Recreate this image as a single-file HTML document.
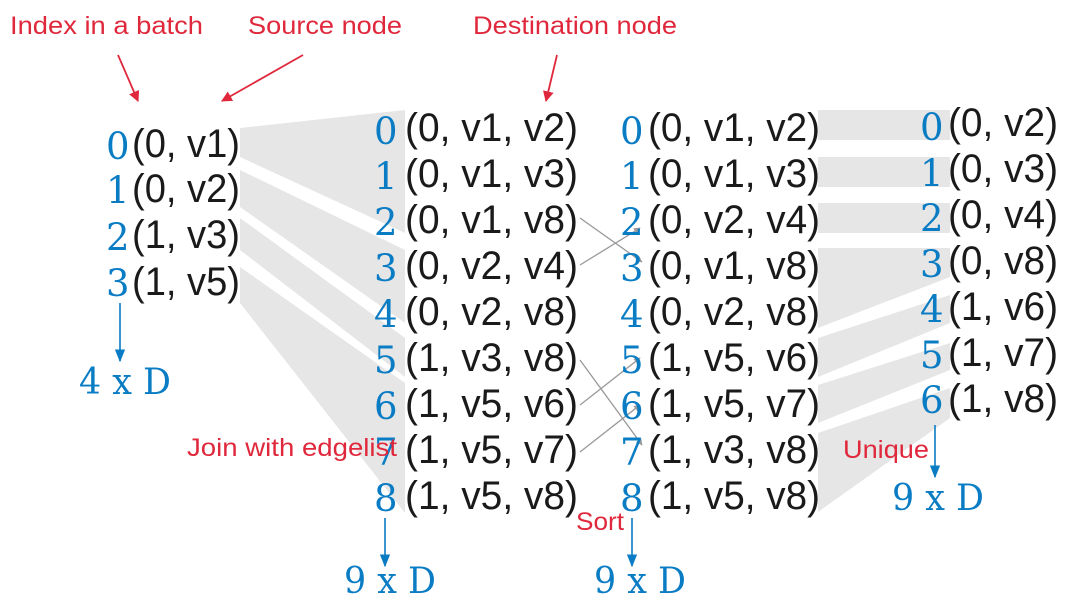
<!DOCTYPE html>
<html><head><meta charset="utf-8"><style>
html,body{margin:0;padding:0;background:#fff;}
svg{display:block;}
.t{font-family:"Liberation Sans",sans-serif;font-size:40px;fill:#1a1a1a;}
.i{font-family:"DejaVu Serif","Liberation Serif",serif;font-size:37px;fill:#0a7cc4;}
.r{font-family:"Liberation Sans",sans-serif;font-size:25px;fill:#e0283c;}
.d{font-family:"DejaVu Serif","Liberation Serif",serif;font-size:36px;fill:#0a7cc4;}
</style></head><body>
<svg width="1080" height="606" viewBox="0 0 1080 606" xmlns="http://www.w3.org/2000/svg">
<defs>
<marker id="ra" viewBox="0 0 10 10" refX="9" refY="5" markerWidth="6" markerHeight="6" orient="auto"><path d="M0,0 L10,5 L0,10 z" fill="#e0283c"/></marker>
<marker id="ba" viewBox="0 0 10 10" refX="9" refY="5" markerWidth="8" markerHeight="8" orient="auto"><path d="M0,1 L10,5 L0,9 z" fill="#0a7cc4"/></marker>
<marker id="ga" viewBox="0 0 10 10" refX="9" refY="5" markerWidth="5" markerHeight="5" orient="auto"><path d="M0,0 L10,5 L0,10 z" fill="#999"/></marker>
</defs>
<g fill="#e6e6e6">
<polygon points="240,128 405,110 405,233 240,157"/>
<polygon points="240,170 405,250 405,323 240,207"/>
<polygon points="240,218 405,338 405,377 240,250"/>
<polygon points="240,267 405,383 405,513 240,303"/>
<polygon points="818,110 950,110 950,140 818,140"/>
<polygon points="818,157 950,157 950,187 818,187"/>
<polygon points="818,203 950,203 950,233 818,233"/>
<polygon points="818,248 950,248 950,277 818,328"/>
<polygon points="818,338 950,295 950,323 818,377"/>
<polygon points="818,385 950,343 950,370 818,423"/>
<polygon points="818,433 950,388 950,418 818,512"/>
</g>
<g stroke="#999" stroke-width="1.3" marker-end="url(#ga)">
<line x1="580" y1="218" x2="642" y2="262"/>
<line x1="580" y1="265" x2="640" y2="228"/>
<line x1="580" y1="360" x2="642" y2="445"/>
<line x1="580" y1="405" x2="640" y2="358"/>
<line x1="580" y1="452" x2="640" y2="405"/>
</g>
<text class="r" x="10" y="34" textLength="193" lengthAdjust="spacingAndGlyphs">Index in a batch</text>
<text class="r" x="248" y="34" textLength="154" lengthAdjust="spacingAndGlyphs">Source node</text>
<text class="r" x="473" y="34" textLength="204" lengthAdjust="spacingAndGlyphs">Destination node</text>
<g stroke="#e0283c" stroke-width="1.8" marker-end="url(#ra)">
<line x1="118" y1="55" x2="138" y2="101"/>
<line x1="303" y1="55" x2="222" y2="101"/>
<line x1="557" y1="55" x2="546" y2="101"/>
</g>
<g class="i"><text x="106" y="159">0</text><text x="106" y="203">1</text><text x="106" y="250">2</text><text x="106" y="296">3</text></g>
<g class="t"><text x="132" y="157" textLength="108" lengthAdjust="spacingAndGlyphs">(0, v1)</text><text x="132" y="202" textLength="108" lengthAdjust="spacingAndGlyphs">(0, v2)</text><text x="132" y="248" textLength="108" lengthAdjust="spacingAndGlyphs">(1, v3)</text><text x="132" y="295" textLength="108" lengthAdjust="spacingAndGlyphs">(1, v5)</text></g>
<g class="i">
<text x="374" y="144">0</text><text x="374" y="189">1</text><text x="374" y="235">2</text><text x="374" y="281">3</text><text x="374" y="327">4</text><text x="374" y="373">5</text><text x="374" y="419">6</text><text x="374" y="465">7</text><text x="374" y="511">8</text></g>
<g class="t">
<text x="405" y="141" textLength="173" lengthAdjust="spacingAndGlyphs">(0, v1, v2)</text>
<text x="405" y="187" textLength="173" lengthAdjust="spacingAndGlyphs">(0, v1, v3)</text>
<text x="405" y="233" textLength="173" lengthAdjust="spacingAndGlyphs">(0, v1, v8)</text>
<text x="405" y="279" textLength="173" lengthAdjust="spacingAndGlyphs">(0, v2, v4)</text>
<text x="405" y="325" textLength="173" lengthAdjust="spacingAndGlyphs">(0, v2, v8)</text>
<text x="405" y="371" textLength="173" lengthAdjust="spacingAndGlyphs">(1, v3, v8)</text>
<text x="405" y="417" textLength="173" lengthAdjust="spacingAndGlyphs">(1, v5, v6)</text>
<text x="405" y="463" textLength="173" lengthAdjust="spacingAndGlyphs">(1, v5, v7)</text>
<text x="405" y="509" textLength="173" lengthAdjust="spacingAndGlyphs">(1, v5, v8)</text></g>
<g class="i">
<text x="620" y="144">0</text><text x="620" y="189">1</text><text x="620" y="235">2</text><text x="620" y="281">3</text><text x="620" y="327">4</text><text x="620" y="373">5</text><text x="620" y="419">6</text><text x="620" y="465">7</text><text x="620" y="511">8</text></g>
<g class="t">
<text x="648" y="141" textLength="172" lengthAdjust="spacingAndGlyphs">(0, v1, v2)</text>
<text x="648" y="187" textLength="172" lengthAdjust="spacingAndGlyphs">(0, v1, v3)</text>
<text x="648" y="233" textLength="172" lengthAdjust="spacingAndGlyphs">(0, v2, v4)</text>
<text x="648" y="279" textLength="172" lengthAdjust="spacingAndGlyphs">(0, v1, v8)</text>
<text x="648" y="325" textLength="172" lengthAdjust="spacingAndGlyphs">(0, v2, v8)</text>
<text x="648" y="371" textLength="172" lengthAdjust="spacingAndGlyphs">(1, v5, v6)</text>
<text x="648" y="417" textLength="172" lengthAdjust="spacingAndGlyphs">(1, v5, v7)</text>
<text x="648" y="463" textLength="172" lengthAdjust="spacingAndGlyphs">(1, v3, v8)</text>
<text x="648" y="509" textLength="172" lengthAdjust="spacingAndGlyphs">(1, v5, v8)</text></g>
<g class="i">
<text x="920" y="140">0</text><text x="920" y="186">1</text><text x="920" y="231">2</text><text x="920" y="277">3</text><text x="920" y="322">4</text><text x="920" y="368">5</text><text x="920" y="413">6</text></g>
<g class="t">
<text x="948" y="136" textLength="110" lengthAdjust="spacingAndGlyphs">(0, v2)</text>
<text x="948" y="182" textLength="110" lengthAdjust="spacingAndGlyphs">(0, v3)</text>
<text x="948" y="228" textLength="110" lengthAdjust="spacingAndGlyphs">(0, v4)</text>
<text x="948" y="274" textLength="110" lengthAdjust="spacingAndGlyphs">(0, v8)</text>
<text x="948" y="320" textLength="110" lengthAdjust="spacingAndGlyphs">(1, v6)</text>
<text x="948" y="366" textLength="110" lengthAdjust="spacingAndGlyphs">(1, v7)</text>
<text x="948" y="412" textLength="110" lengthAdjust="spacingAndGlyphs">(1, v8)</text></g>
<g stroke="#0a7cc4" stroke-width="1.6" marker-end="url(#ba)">
<line x1="120" y1="303" x2="120" y2="361"/>
<line x1="385" y1="518" x2="385" y2="566"/>
<line x1="632" y1="518" x2="632" y2="566"/>
<line x1="935" y1="425" x2="935" y2="477"/>
</g>
<text class="d" x="79" y="394" textLength="92" lengthAdjust="spacingAndGlyphs">4 x D</text>
<text class="d" x="344" y="593" textLength="92" lengthAdjust="spacingAndGlyphs">9 x D</text>
<text class="d" x="594" y="593" textLength="92" lengthAdjust="spacingAndGlyphs">9 x D</text>
<text class="d" x="892" y="510" textLength="92" lengthAdjust="spacingAndGlyphs">9 x D</text>
<text class="r" x="187" y="456" textLength="210" lengthAdjust="spacingAndGlyphs">Join with edgelist</text>
<text class="r" x="576" y="530" textLength="48" lengthAdjust="spacingAndGlyphs">Sort</text>
<text class="r" x="843" y="458" textLength="86" lengthAdjust="spacingAndGlyphs">Unique</text>
</svg>
</body></html>
